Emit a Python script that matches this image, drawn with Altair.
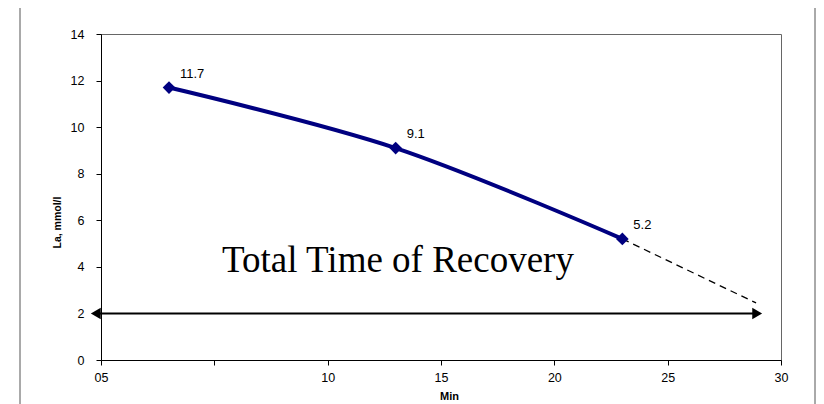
import altair as alt
import pandas as pd

# ---- data ----
MIN = [3, 13, 23]
LA = [11.7, 9.1, 5.2]
LABELS = ["11.7", "9.1", "5.2"]
EXTRAP_MIN = [23, 28.9]
EXTRAP_LA = [5.2, 2.45]
ARROW_MIN = [-0.23, 28.95]
ARROW_LA = [2, 2]
NOTE = ["Total Time of Recovery"]
NOTE_MIN = [13.1]
NOTE_LA = [3.8]
X_TICKS = [0, 5, 10, 15, 20, 25, 30]
Y_TICKS = [0, 2, 4, 6, 8, 10, 12, 14]

main = pd.DataFrame({"min": MIN, "la": LA, "label": LABELS})
extrap = pd.DataFrame({"min": EXTRAP_MIN, "la": EXTRAP_LA})
arrow = pd.DataFrame({"min": ARROW_MIN, "la": ARROW_LA})
arrow_left = arrow.iloc[[0]]
arrow_right = arrow.iloc[[1]]
note = pd.DataFrame({"min": NOTE_MIN, "la": NOTE_LA, "text": NOTE})
frame = pd.DataFrame({"k": [0]})

FONT = "Liberation Sans"

x = alt.X(
    "min:Q",
    scale=alt.Scale(domain=[0, 30], nice=False, zero=False),
    axis=alt.Axis(
        values=X_TICKS,
        labelExpr="datum.value == 0 ? '05' : (datum.value == 5 ? '' : datum.label)",
        labelFlush=False,
        labelOverlap=False,
        title="Min",
        titleFont=FONT,
        titleFontSize=11,
        titleFontWeight="bold",
        titleX=348,
        titleY=36,
        titleBaseline="middle",
        labelPadding=6,
    ),
)
y = alt.Y(
    "la:Q",
    scale=alt.Scale(domain=[0, 14], nice=False),
    axis=alt.Axis(
        values=Y_TICKS,
        title="La, mmol/l",
        titleFont=FONT,
        titleFontSize=10.5,
        titleFontWeight="bold",
        titleAngle=-90,
        titleAlign="center",
        titleBaseline="middle",
        titleX=-44,
        titleY=188,
        labelPadding=12,
    ),
)

frame_layer = alt.Chart(frame).mark_rect(
    fillOpacity=0, stroke="#555555", strokeWidth=1
).encode(
    x=alt.value(-81), x2=alt.value(714), y=alt.value(-27), y2=alt.value(420)
)

line = alt.Chart(main).mark_line(
    interpolate="catmull-rom", color="#000080", strokeWidth=4
).encode(x=x, y=y)

points = alt.Chart(main).mark_point(
    shape="diamond", filled=True, size=160, color="#000080", opacity=1
).encode(x=x, y=y)

labels = alt.Chart(main).mark_text(
    align="left", dx=11, dy=-14, fontSize=13, font=FONT, color="black"
).encode(x=x, y=y, text="label:N")

dashed = alt.Chart(extrap).mark_line(
    color="black", strokeWidth=1.3, strokeDash=[7, 5]
).encode(x=x, y=y)

arrow_line = alt.Chart(arrow).mark_line(color="black", strokeWidth=2).encode(x=x, y=y)

head_l = alt.Chart(arrow_left).mark_point(
    shape="triangle-left", filled=True, size=130, color="black", opacity=1
).encode(x=x, y=y)
head_r = alt.Chart(arrow_right).mark_point(
    shape="triangle-right", filled=True, size=130, color="black", opacity=1
).encode(x=x, y=y)

note_layer = alt.Chart(note).mark_text(
    font="Liberation Serif", fontSize=37, align="center", baseline="alphabetic", color="black"
).encode(x=x, y=y, text="text:N")

chart = alt.layer(
    frame_layer, dashed, arrow_line, head_l, head_r, line, points, labels, note_layer
).properties(
    width=680,
    height=326,
    autosize=alt.AutoSizeParams(type="none"),
    padding={"left": 93, "top": 26, "right": 35, "bottom": 44},
    background="white",
).configure_view(
    stroke="#666666", strokeWidth=1
).configure_axis(
    grid=False,
    domainColor="black",
    domainWidth=1,
    tickColor="black",
    tickSize=5,
    labelColor="black",
    labelFont=FONT,
    labelFontSize=12.5,
    titleColor="black",
)

chart.save("out.html", embed_options={"renderer": "svg", "actions": False})
